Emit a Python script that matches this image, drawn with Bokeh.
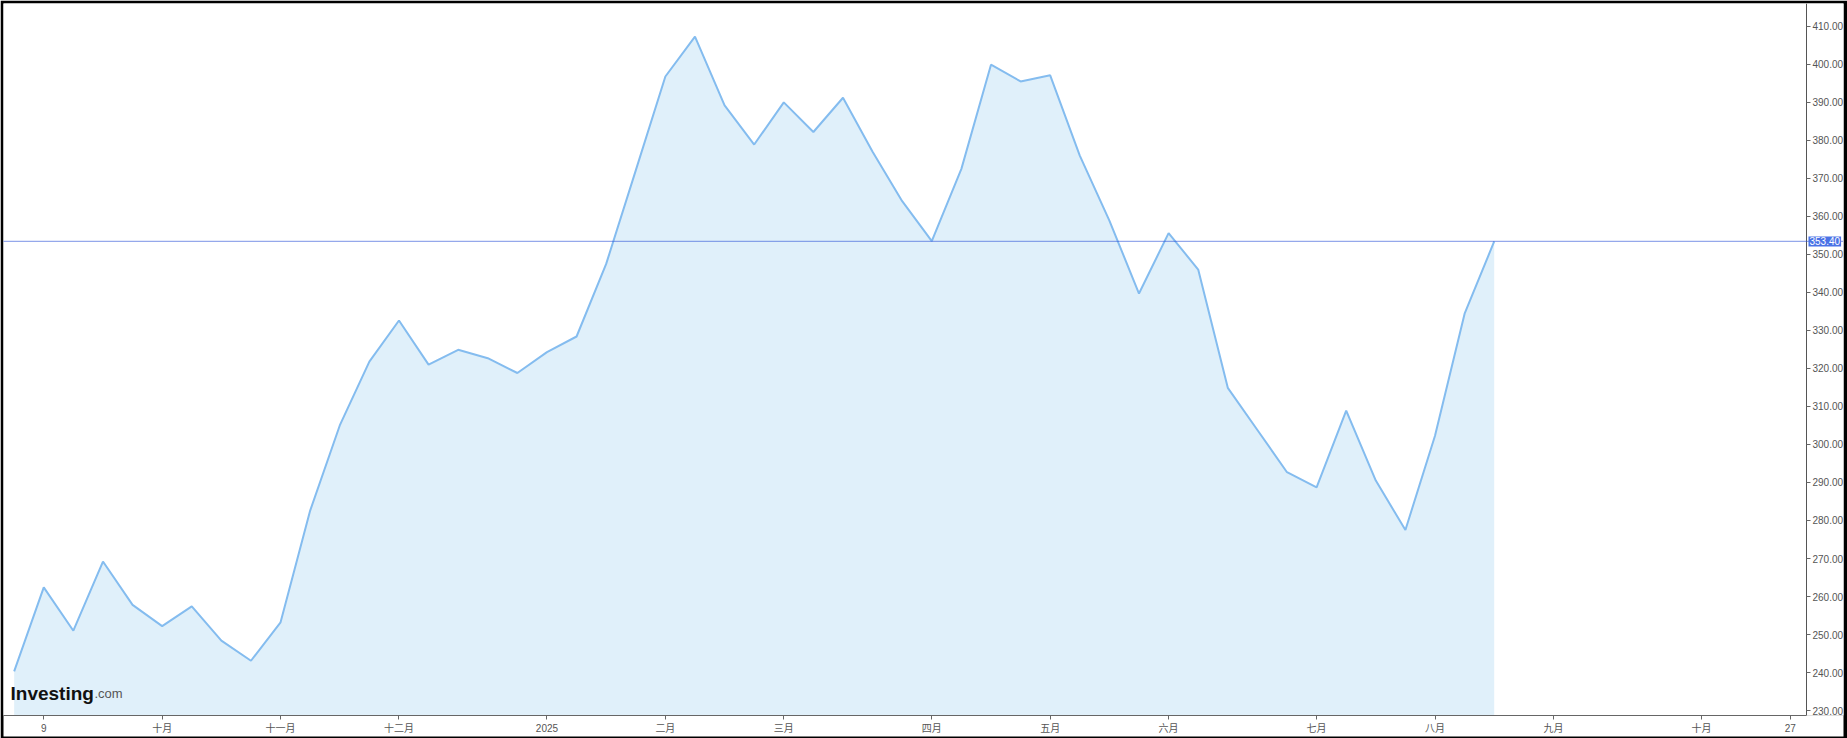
from bokeh.plotting import figure
from bokeh.models import Range1d, FixedTicker, NumeralTickFormatter, Span, Label
from bokeh.embed import file_html
from bokeh.resources import INLINE

# weekly closing values (Sep 2024 .. Aug 2025)
values = [240.3, 262.4, 251.0, 269.2, 257.8, 252.2, 257.4, 248.4, 243.1, 253.2,
          282.6, 305.0, 321.8, 332.6, 321.0, 324.9, 322.7, 318.8, 324.3, 328.4,
          347.5, 372.1, 396.8, 407.3, 389.2, 378.9, 390.0, 382.2, 391.2, 377.0,
          364.0, 353.5, 372.5, 399.9, 395.5, 397.1, 376.0, 358.9, 339.7, 355.6,
          346.0, 314.9, 303.8, 292.7, 288.7, 308.9, 290.5, 277.5, 302.3, 334.4,
          353.4]
last_price = 353.40
tick_idx = [1, 5, 9, 13, 18, 22, 26, 31, 35, 39, 44, 48, 52, 57, 60]
tick_labels = ["9", "十月", "十一月", "十二月", "2025", "二月", "三月", "四月",
               "五月", "六月", "七月", "八月", "九月", "十月", "27"]
y_ticks = list(range(230, 411, 10))

x = list(range(len(values)))
x0 = -0.36          # left edge of plot area
axis_x = 60.55      # position of the price axis
x1 = 61.80          # right edge (room for price labels)
y0, y1 = 228.7, 416.0

FONT = "Liberation Sans, Arial, Noto Sans CJK SC"

p = figure(frame_width=1840, frame_height=712,
           x_range=Range1d(x0, x1), y_range=Range1d(y0, y1),
           y_axis_location="right", output_backend="svg",
           toolbar_location=None,
           min_border_left=3, min_border_top=3, min_border_right=4,
           min_border_bottom=23)
p.background_fill_color = "white"
p.border_fill_color = "black"
p.outline_line_color = None
p.grid.visible = False

p.varea(x=x, y1=[y0] * len(x), y2=values, fill_color="#e0f0fa", fill_alpha=1.0)
p.line(x=x, y=values, line_color="#84bcef", line_width=2)

p.add_layout(Span(location=last_price, dimension="width", line_color="#2a50d6",
                  line_width=1.2, line_dash="1 1"))

# time axis
xa = p.xaxis[0]
xa.ticker = FixedTicker(ticks=tick_idx)
xa.major_label_overrides = {i: l for i, l in zip(tick_idx, tick_labels)}
xa.bounds = (x0, axis_x)
xa.background_fill_color = "white"
xa.major_label_text_font = FONT
xa.major_label_text_font_size = "10px"
xa.major_label_text_color = "#555555"
xa.axis_line_color = "#666666"
xa.major_tick_line_color = "#666666"
xa.major_tick_out = 4
xa.major_tick_in = 0
xa.minor_tick_line_color = None
xa.major_label_standoff = 3

# price axis
ya = p.yaxis[0]
ya.fixed_location = axis_x
ya.ticker = FixedTicker(ticks=y_ticks)
ya.formatter = NumeralTickFormatter(format="0.00")
ya.major_label_text_font = FONT
ya.major_label_text_font_size = "10px"
ya.major_label_text_color = "#555555"
ya.axis_line_color = "#555555"
ya.major_tick_line_color = "#666666"
ya.major_tick_out = 4
ya.major_tick_in = 0
ya.minor_tick_line_color = None
ya.major_label_standoff = 2

# last-price tag
p.add_layout(Label(x=axis_x, y=last_price, text="353.40", text_font=FONT,
                   text_font_size="10px", text_color="white",
                   text_align="left", text_baseline="middle", x_offset=2,
                   background_fill_color="#4a72e6", padding=1))

# watermark
p.add_layout(Label(x=x0, y=y0, text="Investing", text_font=FONT,
                   text_font_size="19px", text_font_style="bold",
                   text_color="#111111", text_baseline="alphabetic",
                   x_offset=7, y_offset=22))
p.add_layout(Label(x=x0, y=y0, text=".com", text_font=FONT,
                   text_font_size="13px", text_color="#555555",
                   text_baseline="alphabetic", x_offset=91, y_offset=22))

open("out.html", "w").write(file_html(p, INLINE))
